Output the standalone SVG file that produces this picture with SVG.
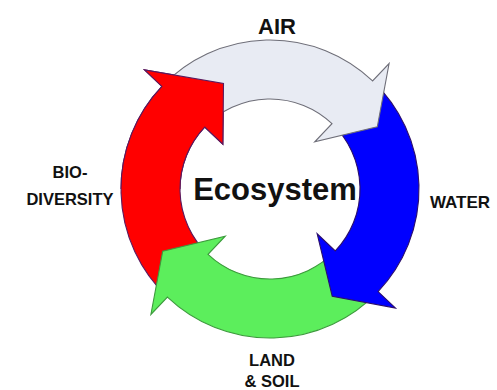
<svg xmlns="http://www.w3.org/2000/svg" width="497" height="390" viewBox="0 0 497 390">
  <style>
    .lbl { font-family: "Liberation Sans", Arial, sans-serif; font-weight: bold; fill: #111; text-anchor: middle; }
    .arrow { stroke-width: 1.1; stroke-linejoin: miter; }
    #air path { fill: #E8EBF3; stroke: #6E6E78; }
    #water path { fill: #0000FF; stroke: #2B0F6B; }
    #land path { fill: #5CEE5C; stroke: #3C9A3C; }
    .bio { fill: #FF0000; stroke: #5A1A5E; }
  </style>
  <defs>
    <!-- upper-left quadrant: the red head sits over the grey tail -->
    <clipPath id="upperLeft">
      <rect x="0" y="0" width="270" height="189"/>
    </clipPath>
    <path id="bioShape" class="arrow" d="M167.43,297.08 A149,149 0 0 1 161.92,86.43 L144.51,69.91 L223.5,83.5 L222.85,144.25 L204.71,127.04 A90,90 0 0 0 208.04,254.29 Z"/>
  </defs>

  <!-- ring of four circular arrows around centre (270,189) -->
  <g id="connectors">
    <g id="bio">
      <use href="#bioShape" class="bio"/>
    </g>
    <g id="land">
      <path class="arrow" d="M378.08,291.57 A149,149 0 0 1 167.43,297.08 L150.91,314.49 L162.69,251.23 L225.25,236.15 L208.04,254.29 A90,90 0 0 0 335.29,250.96 Z"/>
    </g>
    <g id="water">
      <path class="arrow" d="M372.57,80.92 A149,149 0 0 1 378.08,291.57 L395.49,308.09 L332.23,296.31 L317.15,233.75 L335.29,250.96 A90,90 0 0 0 331.96,123.71 Z"/>
    </g>
    <g id="air">
      <path class="arrow" d="M161.92,86.43 A149,149 0 0 1 372.57,80.92 L389.09,63.51 L377.31,126.77 L314.75,141.85 L331.96,123.71 A90,90 0 0 0 204.71,127.04 Z"/>
    </g>
    <g id="bio-head" clip-path="url(#upperLeft)">
      <use href="#bioShape" class="bio"/>
    </g>
  </g>

  <g id="node-ecosystem">
    <text class="lbl" x="275" y="200" font-size="31">Ecosystem</text>
  </g>
  <g id="node-air">
    <text class="lbl" x="277" y="34" font-size="22">AIR</text>
  </g>
  <g id="node-water">
    <text class="lbl" x="460" y="208" font-size="17">WATER</text>
  </g>
  <g id="node-land">
    <text class="lbl" x="272" y="366" font-size="16.5">LAND</text>
    <text class="lbl" x="272" y="387" font-size="16.5">&amp; SOIL</text>
  </g>
  <g id="node-biodiversity">
    <text class="lbl" x="70" y="178" font-size="16.5">BIO-</text>
    <text class="lbl" x="70" y="205" font-size="16.5">DIVERSITY</text>
  </g>
</svg>
